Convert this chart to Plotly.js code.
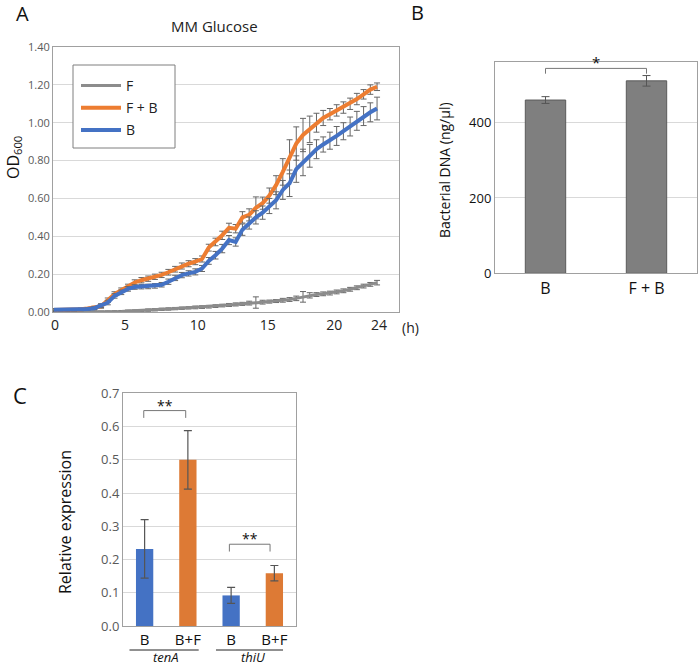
<!DOCTYPE html>
<html>
<head>
<meta charset="utf-8">
<script src="https://cdn.plot.ly/plotly-3.0.1.min.js"></script>
<style>html,body{margin:0;padding:0;background:#fff;}#chart{width:698px;height:669px;}</style>
</head>
<body>
<div id="chart"></div>
<script>
// ---------- Panel A: growth curves (OD600) ----------
const timeHours = [0,0.5,1,1.5,2,2.5,3,3.5,4,4.5,5,5.5,6,6.5,7,7.5,8,8.5,9,9.5,10,10.5,11,11.5,12,12.5,13,13.5,14,14.5,15,15.5,16,16.5,17,17.5,18,18.5,19,19.5,20,20.5,21,21.5,22,22.5,23,23.5,24];
const odF = [0.001,0.001,0.001,0.001,0.001,0.001,0.001,0.001,0.002,0.002,0.003,0.005,0.006,0.008,0.010,0.012,0.014,0.016,0.018,0.020,0.022,0.024,0.026,0.028,0.031,0.034,0.037,0.040,0.043,0.047,0.050,0.052,0.055,0.058,0.062,0.066,0.072,0.080,0.088,0.092,0.096,0.100,0.106,0.112,0.120,0.128,0.137,0.146,0.155];
const errF = [0.004,0.004,0.004,0.004,0.004,0.004,0.004,0.004,0.004,0.005,0.005,0.005,0.005,0.005,0.006,0.006,0.006,0.006,0.006,0.006,0.006,0.007,0.007,0.007,0.007,0.007,0.008,0.008,0.008,0.010,0.030,0.010,0.008,0.008,0.010,0.010,0.012,0.028,0.014,0.010,0.010,0.010,0.010,0.010,0.010,0.010,0.010,0.010,0.012];
const odFB = [0.010,0.010,0.010,0.012,0.015,0.018,0.022,0.030,0.062,0.095,0.115,0.135,0.156,0.168,0.176,0.186,0.196,0.210,0.226,0.243,0.255,0.266,0.280,0.340,0.370,0.405,0.445,0.440,0.500,0.513,0.550,0.575,0.615,0.670,0.740,0.820,0.890,0.935,0.965,1.000,1.025,1.045,1.065,1.080,1.100,1.125,1.150,1.175,1.190];
const errFB = [0.008,0.008,0.006,0.006,0.006,0.006,0.008,0.010,0.012,0.012,0.012,0.012,0.014,0.014,0.014,0.014,0.014,0.015,0.015,0.016,0.016,0.016,0.016,0.018,0.020,0.022,0.024,0.022,0.030,0.032,0.058,0.032,0.040,0.050,0.070,0.090,0.088,0.088,0.070,0.050,0.040,0.030,0.030,0.030,0.030,0.030,0.025,0.025,0.020];
const odB = [0.012,0.012,0.012,0.012,0.013,0.016,0.020,0.034,0.050,0.085,0.104,0.122,0.132,0.134,0.135,0.138,0.144,0.160,0.180,0.195,0.204,0.212,0.230,0.270,0.300,0.335,0.380,0.370,0.435,0.470,0.500,0.525,0.560,0.590,0.645,0.680,0.755,0.790,0.825,0.860,0.885,0.905,0.930,0.955,0.980,1.010,1.035,1.055,1.075];
const errB = [0.006,0.006,0.006,0.006,0.006,0.006,0.008,0.010,0.012,0.012,0.012,0.012,0.012,0.012,0.012,0.012,0.012,0.014,0.014,0.014,0.014,0.016,0.016,0.018,0.020,0.022,0.024,0.022,0.030,0.032,0.035,0.035,0.040,0.045,0.050,0.070,0.070,0.070,0.060,0.050,0.040,0.045,0.050,0.045,0.050,0.050,0.050,0.050,0.060];
const seriesNamesA = ['F', 'F + B', 'B'];
const xTickLabelsA = ['0','5','10','15','20','24'];

// ---------- Panel B: bacterial DNA ----------
const groupsB = ['B', 'F + B'];
const dnaB = [460, 511];
const dnaErrB = [9, 14];

// ---------- Panel C: relative expression ----------
const genesC = ['tenA', 'tenA', 'thiU', 'thiU'];
const condC = ['B', 'B+F', 'B', 'B+F'];
const exprC = [0.232, 0.500, 0.092, 0.159];
const exprErrC = [0.088, 0.088, 0.024, 0.023];

const FONT = 'Open Sans, Liberation Sans, sans-serif';
const BLUE = '#4472c4', ORANGE = '#ed7d31', GREY = '#7f7f7f';
const ERRC = '#666666';
const FRAME = '#a0a0a0';
const GRID = '#d9d9d9';

const px = v => v / 698;
const py = v => 1 - v / 669;

const lineColors = ['#8c8c8c', ORANGE, BLUE];
const ysA = [odF, odFB, odB];
const errsA = [errF, errFB, errB];

const traces = [];
for (let k = 0; k < 3; k++) {
  traces.push({
    type: 'scatter', mode: 'lines', name: seriesNamesA[k], legendgroup: 'g' + k,
    x: timeHours, y: ysA[k], xaxis: 'x', yaxis: 'y',
    line: {color: lineColors[k], width: k === 0 ? 3 : 4},
    error_y: {type: 'data', array: errsA[k], visible: true, color: ERRC, thickness: 1, width: 3},
    showlegend: true
  });
}

traces.push({
  type: 'bar', x: groupsB, y: dnaB, xaxis: 'x2', yaxis: 'y2', showlegend: false,
  marker: {color: GREY, line: {color: '#5a5a5a', width: 1}},
  error_y: {type: 'data', array: dnaErrB, visible: true, color: '#555', thickness: 1, width: 4}
});

const keysC = genesC.map((g, i) => g + '|' + condC[i]);
traces.push({
  type: 'bar', x: keysC, y: exprC, xaxis: 'x3', yaxis: 'y3', showlegend: false,
  marker: {color: [BLUE, '#dd7a35', BLUE, '#dd7a35']},
  error_y: {type: 'data', array: exprErrC, visible: true, color: '#555', thickness: 1.2, width: 4}
});

const axisCommon = {showline: true, linecolor: FRAME, linewidth: 1, mirror: true, zeroline: false, ticks: ''};

function ann(text, x, y, size, extra) {
  return Object.assign({text: text, x: px(x), y: py(y), xref: 'paper', yref: 'paper',
    xanchor: 'center', yanchor: 'middle', showarrow: false, font: {size: size, color: '#111'}}, extra || {});
}

const layout = {
  width: 698, height: 669,
  margin: {l: 0, r: 0, t: 0, b: 0},
  paper_bgcolor: '#fff', plot_bgcolor: '#fff',
  font: {family: FONT, color: '#222'},
  bargap: 0.6,
  showlegend: true,
  legend: {
    x: px(76), y: py(70), xanchor: 'left', yanchor: 'top',
    bgcolor: 'rgba(0,0,0,0)', borderwidth: 0,
    font: {family: FONT, size: 14, color: '#222'},
    itemwidth: 40, traceorder: 'grouped', tracegroupgap: 1
  },
  xaxis: Object.assign({}, axisCommon, {
    domain: [px(53), px(399)], anchor: 'y',
    range: [-0.07, 25.63], showgrid: false,
    tickvals: [0.07, 5.27, 10.68, 15.88, 20.82, 24.15], ticktext: xTickLabelsA,
    tickfont: {size: 14, color: '#222'}
  }),
  yaxis: Object.assign({}, axisCommon, {
    domain: [py(312), py(47)], anchor: 'x',
    range: [0, 1.4], dtick: 0.2, tickformat: '.2f',
    showgrid: true, gridcolor: GRID,
    tickfont: {size: 11, color: '#595959'}
  }),
  xaxis2: Object.assign({}, axisCommon, {
    domain: [px(495), px(697)], anchor: 'y2', type: 'category',
    tickfont: {size: 16, color: '#111'}
  }),
  yaxis2: Object.assign({}, axisCommon, {
    domain: [py(273.3), py(62)], anchor: 'x2',
    range: [0, 561], tickvals: [0, 200, 400],
    showgrid: true, gridcolor: GRID,
    tickfont: {size: 13, color: '#111'}
  }),
  xaxis3: Object.assign({}, axisCommon, {
    domain: [px(123), px(296)], anchor: 'y3', type: 'category',
    tickvals: keysC, ticktext: condC,
    tickfont: {size: 15, color: '#111'}
  }),
  yaxis3: Object.assign({}, axisCommon, {
    domain: [py(626), py(393.3)], anchor: 'x3',
    range: [0, 0.7], dtick: 0.1, tickformat: '.1f',
    showgrid: true, gridcolor: GRID,
    tickfont: {size: 13, color: '#595959'}
  }),
  shapes: [
    // Panel A legend box
    {type: 'rect', xref: 'paper', yref: 'paper', x0: px(73), x1: px(175), y0: py(65), y1: py(148),
     fillcolor: '#fff', line: {color: '#7f7f7f', width: 1}, layer: 'above'},
    // Panel B bracket
    {type: 'line', xref: 'x2', yref: 'y2', x0: 0, x1: 1, y0: 544, y1: 544, line: {color: '#777', width: 1}},
    {type: 'line', xref: 'x2', yref: 'y2', x0: 0, x1: 0, y0: 544, y1: 530, line: {color: '#777', width: 1}},
    {type: 'line', xref: 'x2', yref: 'y2', x0: 1, x1: 1, y0: 544, y1: 530, line: {color: '#777', width: 1}},
    // Panel C brackets
    {type: 'line', xref: 'x3', yref: 'y3', x0: -0.02, x1: 0.95, y0: 0.648, y1: 0.648, line: {color: '#777', width: 1}},
    {type: 'line', xref: 'x3', yref: 'y3', x0: -0.02, x1: -0.02, y0: 0.648, y1: 0.626, line: {color: '#777', width: 1}},
    {type: 'line', xref: 'x3', yref: 'y3', x0: 0.95, x1: 0.95, y0: 0.648, y1: 0.626, line: {color: '#777', width: 1}},
    {type: 'line', xref: 'x3', yref: 'y3', x0: 1.96, x1: 2.9, y0: 0.246, y1: 0.246, line: {color: '#777', width: 1}},
    {type: 'line', xref: 'x3', yref: 'y3', x0: 1.96, x1: 1.96, y0: 0.246, y1: 0.224, line: {color: '#777', width: 1}},
    {type: 'line', xref: 'x3', yref: 'y3', x0: 2.9, x1: 2.9, y0: 0.246, y1: 0.224, line: {color: '#777', width: 1}},
    // Panel C gene underlines
    {type: 'line', xref: 'x3', yref: 'paper', x0: -0.35, x1: 1.25, y0: py(650), y1: py(650), line: {color: '#222', width: 1}},
    {type: 'line', xref: 'x3', yref: 'paper', x0: 1.65, x1: 3.2, y0: py(650), y1: py(650), line: {color: '#222', width: 1}}
  ],
  annotations: [
    ann('A', 22, 14, 20),
    ann('B', 417, 12, 20),
    ann('C', 20, 395, 22),
    ann('MM Glucose', 214, 26, 15, {font: {size: 15, color: '#222'}}),
    ann('OD<sub>600</sub>', 14, 158, 16, {textangle: -90}),
    ann('(h)', 410, 328, 14, {font: {size: 14, color: '#222'}}),
    ann('Bacterial DNA (ng/μl)', 444, 170, 14, {textangle: -90}),
    {text: '*', x: 0.5, y: 544, xref: 'x2', yref: 'y2', xanchor: 'center', yanchor: 'bottom', yshift: -6, showarrow: false, font: {size: 15, color: '#111'}},
    {text: '**', x: 0.47, y: 0.648, xref: 'x3', yref: 'y3', xanchor: 'center', yanchor: 'bottom', yshift: -6, showarrow: false, font: {size: 14, color: '#111'}},
    {text: '**', x: 2.43, y: 0.246, xref: 'x3', yref: 'y3', xanchor: 'center', yanchor: 'bottom', yshift: -6, showarrow: false, font: {size: 14, color: '#111'}},
    ann('Relative expression', 65, 522, 16, {textangle: -90}),
    {text: '<i>' + genesC[0] + '</i>', x: 0.5, y: py(668), xref: 'x3', yref: 'paper', xanchor: 'center', yanchor: 'bottom', showarrow: false, font: {size: 13, color: '#111'}},
    {text: '<i>' + genesC[2] + '</i>', x: 2.5, y: py(668), xref: 'x3', yref: 'paper', xanchor: 'center', yanchor: 'bottom', showarrow: false, font: {size: 13, color: '#111'}}
  ]
};

Plotly.newPlot('chart', traces, layout, {staticPlot: true, displayModeBar: false});
</script>
</body>
</html>
